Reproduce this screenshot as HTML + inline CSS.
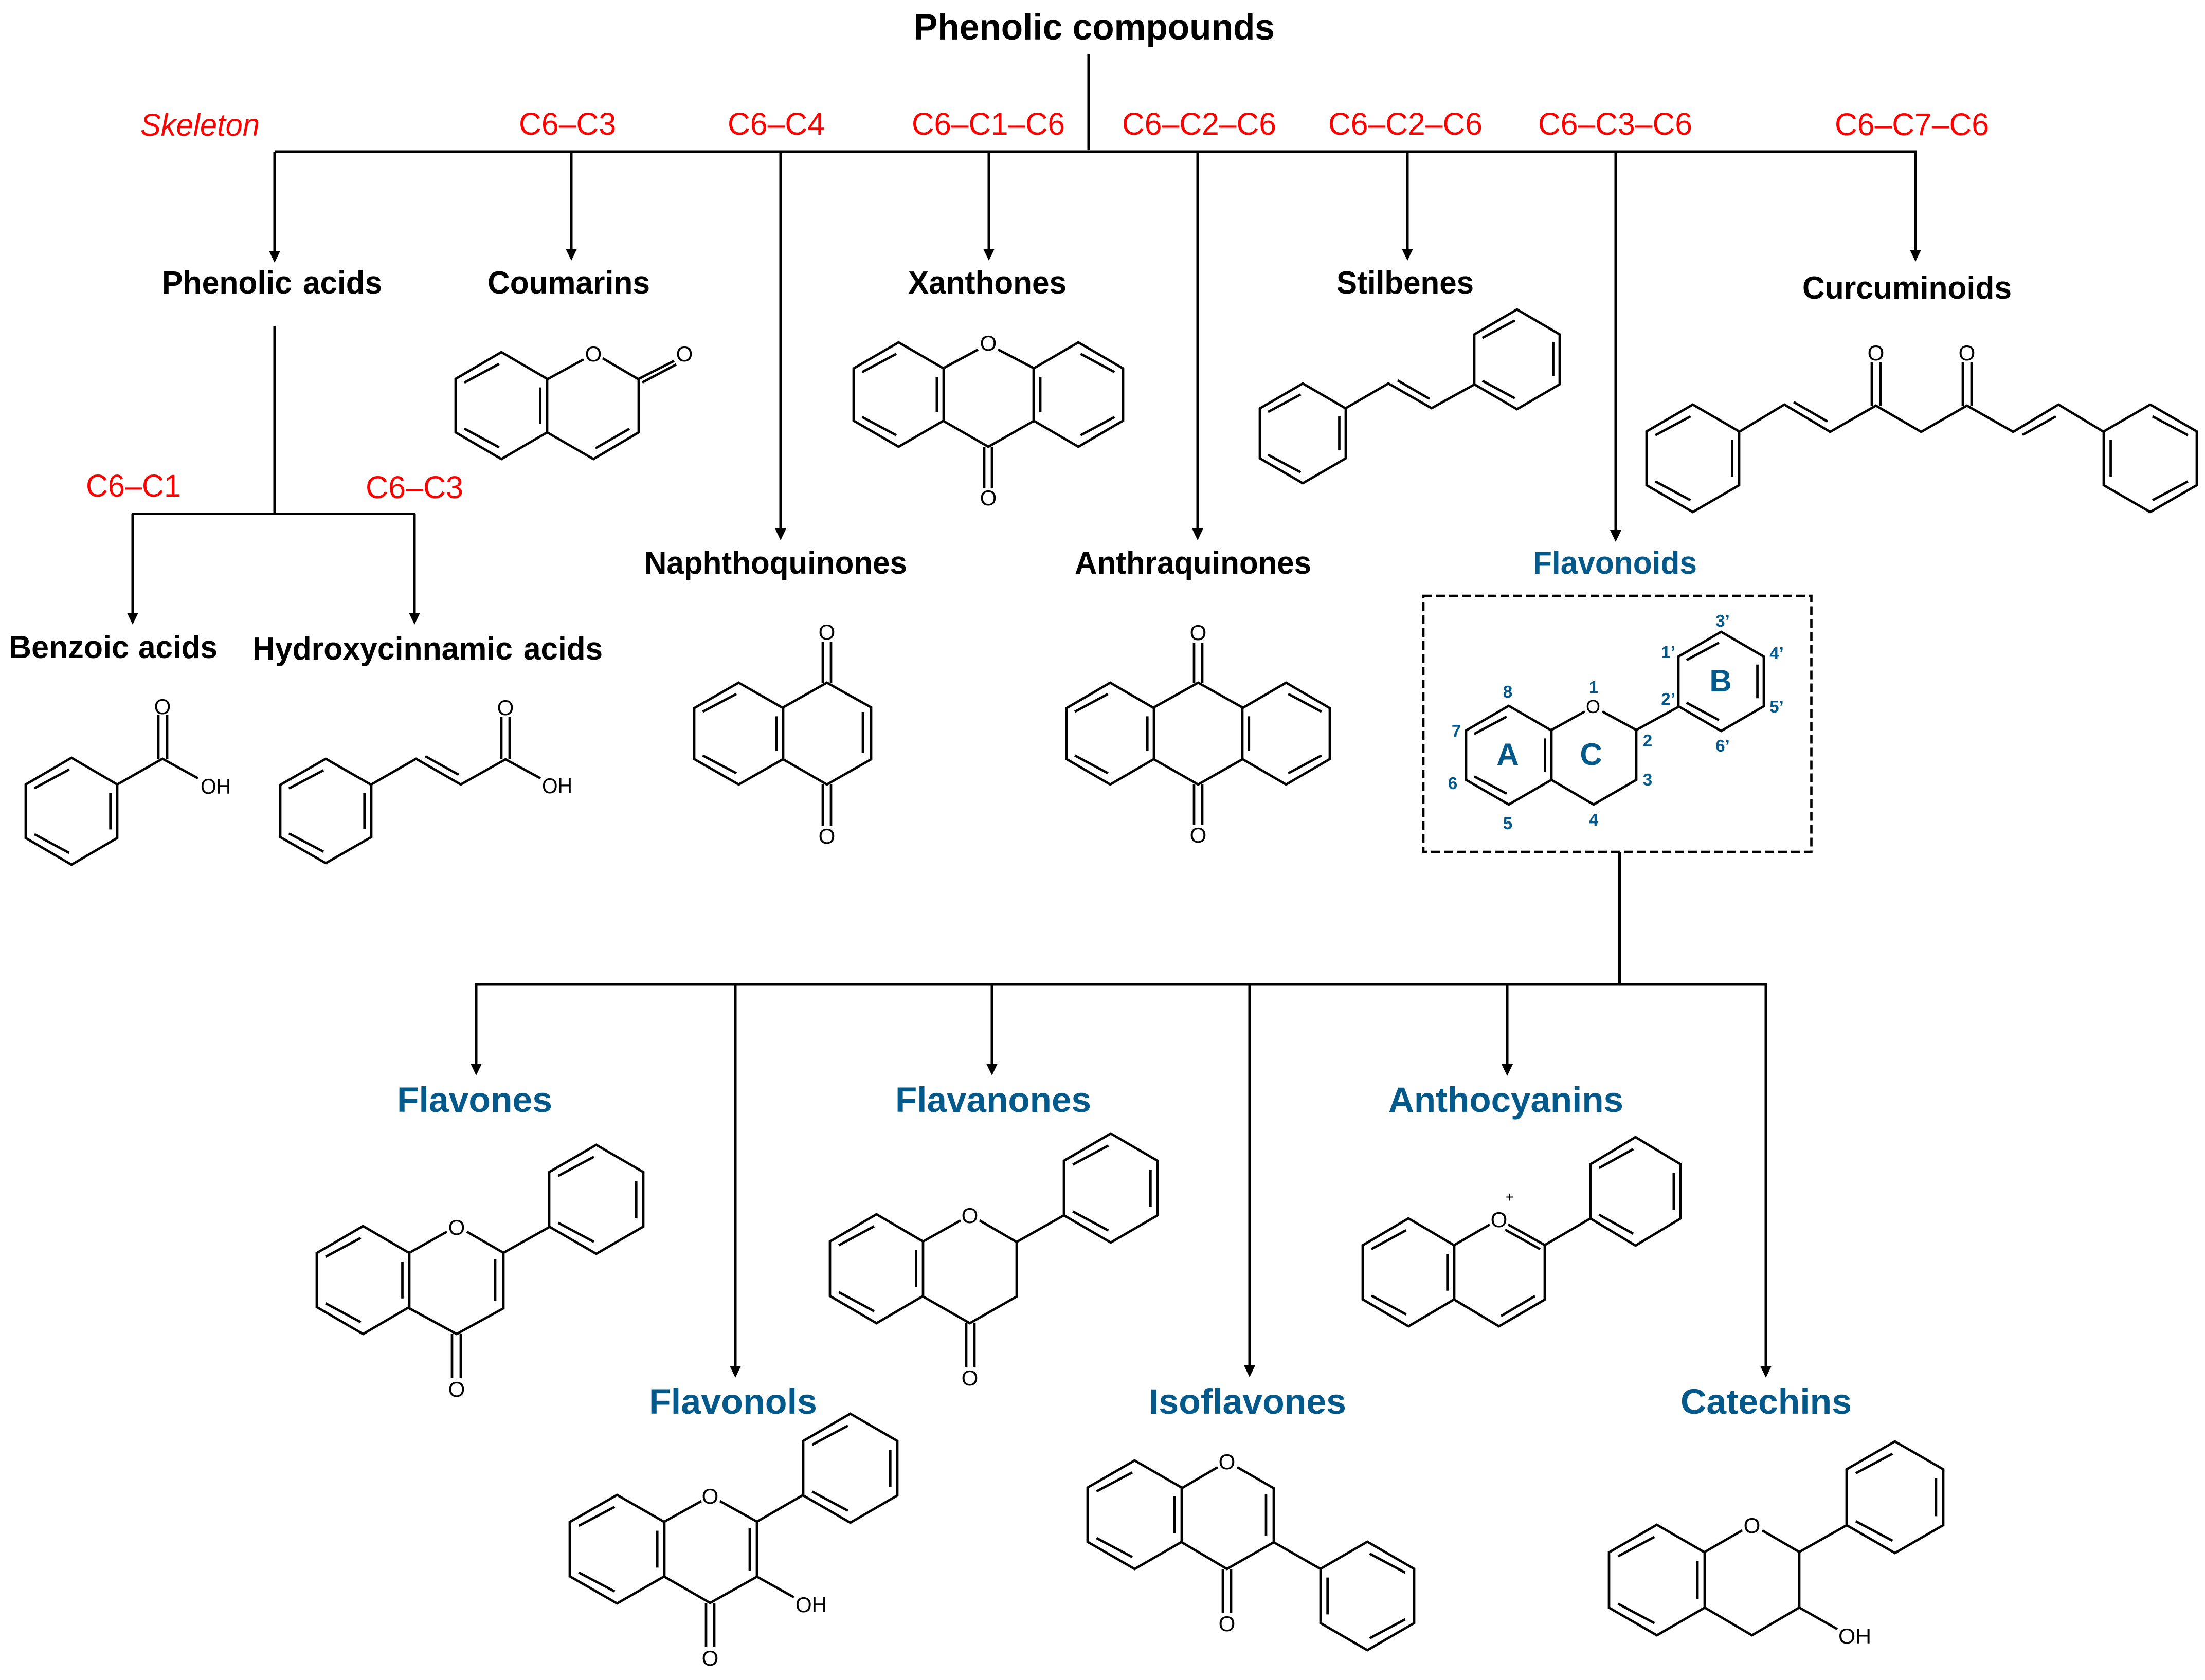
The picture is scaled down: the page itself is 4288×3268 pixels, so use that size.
<!DOCTYPE html>
<html><head><meta charset="utf-8"><title>Phenolic compounds</title>
<style>
html,body{margin:0;padding:0;background:#fff}
svg{display:block}
text{font-family:"Liberation Sans",Arial,sans-serif}
.l{fill:none;stroke:#000;stroke-width:4.7;stroke-linejoin:miter;stroke-linecap:butt}
.c{fill:none;stroke:#000;stroke-width:5}
.h{fill:#000;stroke:none}
.r{fill:#f00;font-size:61px}
.b{fill:#000;font-size:62px;font-weight:bold}
.f{fill:#035a8a;font-size:69px;font-weight:bold}
.o{fill:#000;font-size:42px;text-anchor:middle}
.oh{fill:#000;font-size:42px}
.n{fill:#035a8a;font-size:33px;font-weight:bold;text-anchor:middle}
.m{fill:#035a8a;font-size:60px;font-weight:bold;text-anchor:middle}
</style></head>
<body>
<svg xmlns="http://www.w3.org/2000/svg" width="4288" height="3268" viewBox="0 0 4288 3268">
<defs>
<g id="r1"><path vector-effect="non-scaling-stroke" fill="none" stroke="#000" stroke-width="4.7" d="M100 0L200 50V150L100 200L0 150V50Z"/><path vector-effect="non-scaling-stroke" fill="none" stroke="#000" stroke-width="4.7" d="M19 57L95 22M19 143L95 178M185 66V134"/></g>
<g id="r2"><path vector-effect="non-scaling-stroke" fill="none" stroke="#000" stroke-width="4.7" d="M100 0L200 50V150L100 200L0 150V50Z"/><path vector-effect="non-scaling-stroke" fill="none" stroke="#000" stroke-width="4.7" d="M181 57L105 22M181 143L105 178M15 66V134"/></g>
</defs>
<rect width="4288" height="3268" fill="#fff"/>

<!-- connectors -->
<path class="c" d="M2117 106V292M534 295H3728M534 295V490M1111 295V486M1518 295V1030M1923 295V486M2329 295V1030M2737 295V486M3142 295V1033M3725 295V488"/>
<path class="c" d="M534 634V999M256 999.500H808M258 999V1194M806 999V1194"/>
<path class="c" d="M3149.500 1657V1915M924 1915H3436M926 1915V2071M1430 1915V2659M1929 1915V2071M2430 1915V2658M2931 1915V2071M3434 1915V2659"/>
<g class="h">
<polygon points="523,488 545,488 534,511"/>
<polygon points="1100,484 1122,484 1111,507"/>
<polygon points="1507,1028 1529,1028 1518,1051"/>
<polygon points="1912,484 1934,484 1923,507"/>
<polygon points="2318,1028 2340,1028 2329,1051"/>
<polygon points="2726,484 2748,484 2737,507"/>
<polygon points="3131,1031 3153,1031 3142,1054"/>
<polygon points="3714,486 3736,486 3725,509"/>
<polygon points="247,1192 269,1192 258,1215"/>
<polygon points="795,1192 817,1192 806,1215"/>
<polygon points="915,2069 937,2069 926,2092"/>
<polygon points="1419,2657 1441,2657 1430,2680"/>
<polygon points="1918,2069 1940,2069 1929,2092"/>
<polygon points="2419,2656 2441,2656 2430,2679"/>
<polygon points="2920,2070 2942,2070 2931,2093"/>
<polygon points="3423,2657 3445,2657 3434,2680"/>
</g>
<rect x="2768" y="1159" width="754.500" height="498" fill="none" stroke="#000" stroke-width="4.6" stroke-dasharray="17 8"/>

<!-- headings -->
<text x="1777" y="77" style="font-size:71px;font-weight:bold;fill:#000" textLength="702" lengthAdjust="spacingAndGlyphs">Phenolic compounds</text>
<text x="273" y="264" class="r" style="font-style:italic" textLength="232" lengthAdjust="spacingAndGlyphs">Skeleton</text>
<text x="1009" y="262" class="r" textLength="189" lengthAdjust="spacingAndGlyphs">C6–C3</text>
<text x="1415" y="262" class="r" textLength="189" lengthAdjust="spacingAndGlyphs">C6–C4</text>
<text x="1773" y="262" class="r" textLength="298" lengthAdjust="spacingAndGlyphs">C6–C1–C6</text>
<text x="2182" y="262" class="r" textLength="300" lengthAdjust="spacingAndGlyphs">C6–C2–C6</text>
<text x="2583" y="262" class="r" textLength="300" lengthAdjust="spacingAndGlyphs">C6–C2–C6</text>
<text x="2991" y="262" class="r" textLength="300" lengthAdjust="spacingAndGlyphs">C6–C3–C6</text>
<text x="3568" y="263" class="r" textLength="300" lengthAdjust="spacingAndGlyphs">C6–C7–C6</text>
<text x="167" y="966" class="r" textLength="185" lengthAdjust="spacingAndGlyphs">C6–C1</text>
<text x="711" y="969" class="r" textLength="190" lengthAdjust="spacingAndGlyphs">C6–C3</text>

<text x="315" y="571" class="b" textLength="253" lengthAdjust="spacingAndGlyphs">Phenolic</text>
<text x="589" y="571" class="b" textLength="154" lengthAdjust="spacingAndGlyphs">acids</text>
<text x="948" y="571" class="b" textLength="316" lengthAdjust="spacingAndGlyphs">Coumarins</text>
<text x="1766" y="571" class="b" textLength="308" lengthAdjust="spacingAndGlyphs">Xanthones</text>
<text x="2599" y="571" class="b" textLength="267" lengthAdjust="spacingAndGlyphs">Stilbenes</text>
<text x="3505" y="581" class="b" textLength="407" lengthAdjust="spacingAndGlyphs">Curcuminoids</text>
<text x="1253" y="1116" class="b" textLength="511" lengthAdjust="spacingAndGlyphs">Naphthoquinones</text>
<text x="2090" y="1116" class="b" textLength="460" lengthAdjust="spacingAndGlyphs">Anthraquinones</text>
<text x="17" y="1280" class="b" textLength="234" lengthAdjust="spacingAndGlyphs">Benzoic</text>
<text x="269" y="1280" class="b" textLength="154" lengthAdjust="spacingAndGlyphs">acids</text>
<text x="491" y="1283" class="b" textLength="506" lengthAdjust="spacingAndGlyphs">Hydroxycinnamic</text>
<text x="1018" y="1283" class="b" textLength="154" lengthAdjust="spacingAndGlyphs">acids</text>
<text x="2981" y="1116" class="b" style="fill:#035a8a" textLength="319" lengthAdjust="spacingAndGlyphs">Flavonoids</text>

<text x="772" y="2163" class="f" textLength="302" lengthAdjust="spacingAndGlyphs">Flavones</text>
<text x="1741" y="2163" class="f" textLength="381" lengthAdjust="spacingAndGlyphs">Flavanones</text>
<text x="2700" y="2163" class="f" textLength="457" lengthAdjust="spacingAndGlyphs">Anthocyanins</text>
<text x="1262" y="2750" class="f" textLength="327" lengthAdjust="spacingAndGlyphs">Flavonols</text>
<text x="2234" y="2750" class="f" textLength="384" lengthAdjust="spacingAndGlyphs">Isoflavones</text>
<text x="3268" y="2750" class="f" textLength="333" lengthAdjust="spacingAndGlyphs">Catechins</text>

<!-- coumarin -->
<use href="#r1" transform="translate(886,685) scale(.89,1.04)"/>
<path class="l" d="M1064 738L1135 699M1172 697L1242 738V841L1154 893L1064 841M1224 834L1158 872M1242 737L1311 702M1249 744L1315 709"/>
<text x="1154" y="703" class="o">O</text><text x="1331" y="703" class="o">O</text>

<!-- xanthone -->
<use href="#r1" transform="translate(1660,666) scale(.875,1.015)"/>
<use href="#r2" transform="translate(2010,666) scale(.87,1.015)"/>
<path class="l" d="M1835 716L1902 680M1941 680L2010 716M1835 819L1922 869L2010 819M1914 869V949M1929 869V949"/>
<text x="1922" y="682" class="o">O</text><text x="1922" y="983" class="o">O</text>

<!-- stilbene -->
<use href="#r1" transform="translate(2450,746) scale(.835,.97)"/>
<use href="#r1" transform="translate(2867,602) scale(.83,.97)"/>
<path class="l" d="M2617 794L2700 746L2784 794L2867 748M2718 740L2780 776"/>

<!-- curcuminoid -->
<use href="#r1" transform="translate(3202,787) scale(.9,1.045)"/>
<use href="#r2" transform="translate(4091,787) scale(.905,1.045)"/>
<path class="l" d="M3382 840L3470 787L3559 840L3648 789L3736 840L3825 789L3915 840L4003 787L4091 840M3488 782L3554 820M3933 846L3998 810M3640 789V705M3657 789V705M3817 789V705M3834 789V705"/>
<text x="3648" y="701" class="o">O</text><text x="3825" y="701" class="o">O</text>

<!-- benzoic acid -->
<use href="#r1" transform="translate(50,1474) scale(.89,1.04)"/>
<path class="l" d="M228 1526L316 1476L385 1514M308 1476V1390M325 1476V1390"/>
<text x="316" y="1389" class="o">O</text>
<text x="390" y="1544" class="oh" textLength="59" lengthAdjust="spacingAndGlyphs">OH</text>

<!-- cinnamic acid -->
<use href="#r1" transform="translate(545,1476) scale(.885,1.015)"/>
<path class="l" d="M722 1526L809 1476L896 1526L983 1477L1051 1514M827 1471L892 1507M975 1477V1394M991 1477V1394"/>
<text x="983" y="1391" class="o">O</text>
<text x="1054" y="1543" class="oh" textLength="59" lengthAdjust="spacingAndGlyphs">OH</text>

<!-- naphthoquinone -->
<use href="#r1" transform="translate(1350,1328) scale(.865,.99)"/>
<path class="l" d="M1523 1376L1608 1328L1694 1376V1477L1608 1526L1523 1477M1678 1385V1465M1600 1328V1248M1616 1328V1248M1600 1526V1606M1616 1526V1606"/>
<text x="1608" y="1244" class="o">O</text><text x="1608" y="1641" class="o">O</text>

<!-- anthraquinone -->
<use href="#r1" transform="translate(2074,1328) scale(.85,.99)"/>
<use href="#r2" transform="translate(2416,1328) scale(.85,.99)"/>
<path class="l" d="M2244 1376L2330 1328L2416 1376M2244 1477L2330 1526L2416 1477M2322 1328V1250M2338 1328V1250M2322 1526V1604M2338 1526V1604"/>
<text x="2330" y="1245" class="o">O</text><text x="2330" y="1639" class="o">O</text>

<!-- flavonoid core -->
<use href="#r1" transform="translate(2851,1373) scale(.83,.96)"/>
<use href="#r1" transform="translate(3264,1229) scale(.83,.965)"/>
<path class="l" d="M3017 1420L3082 1384M3116 1384L3182 1420V1517L3099 1565L3017 1517M3182 1420L3264 1375"/>
<text x="3098" y="1387" class="o" style="font-size:36px">O</text>
<text class="n" x="2932" y="1357">8</text><text class="n" x="2832" y="1433">7</text><text class="n" x="2825" y="1535">6</text><text class="n" x="2932" y="1613">5</text>
<text class="n" x="3099" y="1606">4</text><text class="n" x="3204" y="1528">3</text><text class="n" x="3204" y="1452">2</text><text class="n" x="3099" y="1348">1</text>
<text class="n" x="3244" y="1371">2’</text><text class="n" x="3244" y="1280">1’</text><text class="n" x="3350" y="1219">3’</text>
<text class="n" x="3455" y="1282">4’</text><text class="n" x="3455" y="1386">5’</text><text class="n" x="3350" y="1462">6’</text>
<text class="m" x="2932" y="1488">A</text><text class="m" x="3094" y="1488">C</text><text class="m" x="3346" y="1345">B</text>

<!-- flavone -->
<use href="#r1" transform="translate(616,2385) scale(.9,1.05)"/>
<use href="#r1" transform="translate(1068,2227) scale(.915,1.06)"/>
<path class="l" d="M796 2437L869 2396M908 2396L979 2437V2545L888 2595L796 2545M963 2450V2531M979 2437L1068 2387M879 2595V2681M896 2595V2681"/>
<text x="888" y="2402" class="o">O</text><text x="888" y="2717" class="o">O</text>

<!-- flavanone -->
<use href="#r1" transform="translate(1614,2362) scale(.905,1.06)"/>
<use href="#r1" transform="translate(2069,2205) scale(.91,1.06)"/>
<path class="l" d="M1795 2415L1868 2374M1905 2374L1977 2416V2522L1886 2574L1795 2522M1977 2416L2069 2364M1879 2574V2659M1895 2574V2659"/>
<text x="1886" y="2379" class="o">O</text><text x="1886" y="2695" class="o">O</text>

<!-- anthocyanin -->
<use href="#r1" transform="translate(2650,2370) scale(.89,1.05)"/>
<use href="#r1" transform="translate(3093,2212) scale(.875,1.055)"/>
<path class="l" d="M2828 2422L2897 2382M2933 2382L3004 2422V2528L2915 2580L2828 2528M2927 2392L2995 2430M2919 2560L2985 2521M3004 2422L3093 2370"/>
<text x="2915" y="2387" class="o">O</text>
<text x="2936" y="2338" style="font-size:28px;text-anchor:middle;fill:#000">+</text>

<!-- flavonol -->
<use href="#r1" transform="translate(1108,2908) scale(.92,1.055)"/>
<use href="#r1" transform="translate(1562,2750) scale(.915,1.06)"/>
<path class="l" d="M1292 2960L1364 2920M1400 2920L1472 2960V3067L1381 3118L1292 3067M1458 2972V3055M1472 3067L1544 3107M1472 2960L1562 2908M1373 3118V3204M1389 3118V3204"/>
<text x="1381" y="2925" class="o">O</text><text x="1381" y="3240" class="o">O</text>
<text x="1547" y="3136" class="oh" textLength="61" lengthAdjust="spacingAndGlyphs">OH</text>

<!-- isoflavone -->
<use href="#r1" transform="translate(2115,2841) scale(.915,1.055)"/>
<use href="#r2" transform="translate(2568,2999) scale(.91,1.055)"/>
<path class="l" d="M2298 2895L2368 2854M2406 2854L2477 2895V3000L2386 3052L2298 3000M2462 2907V2988M2477 3000L2568 3052M2378 3052V3137M2394 3052V3137"/>
<text x="2386" y="2858" class="o">O</text><text x="2386" y="3173" class="o">O</text>

<!-- catechin -->
<use href="#r1" transform="translate(3129,2966) scale(.93,1.075)"/>
<use href="#r1" transform="translate(3591,2804) scale(.94,1.085)"/>
<path class="l" d="M3315 3019L3388 2977M3427 2977L3499 3019V3127L3407 3181L3315 3127M3499 3127L3573 3169M3499 3019L3591 2967"/>
<text x="3407" y="2982" class="o">O</text>
<text x="3575" y="3197" class="oh" textLength="64" lengthAdjust="spacingAndGlyphs">OH</text>
</svg>
</body></html>
